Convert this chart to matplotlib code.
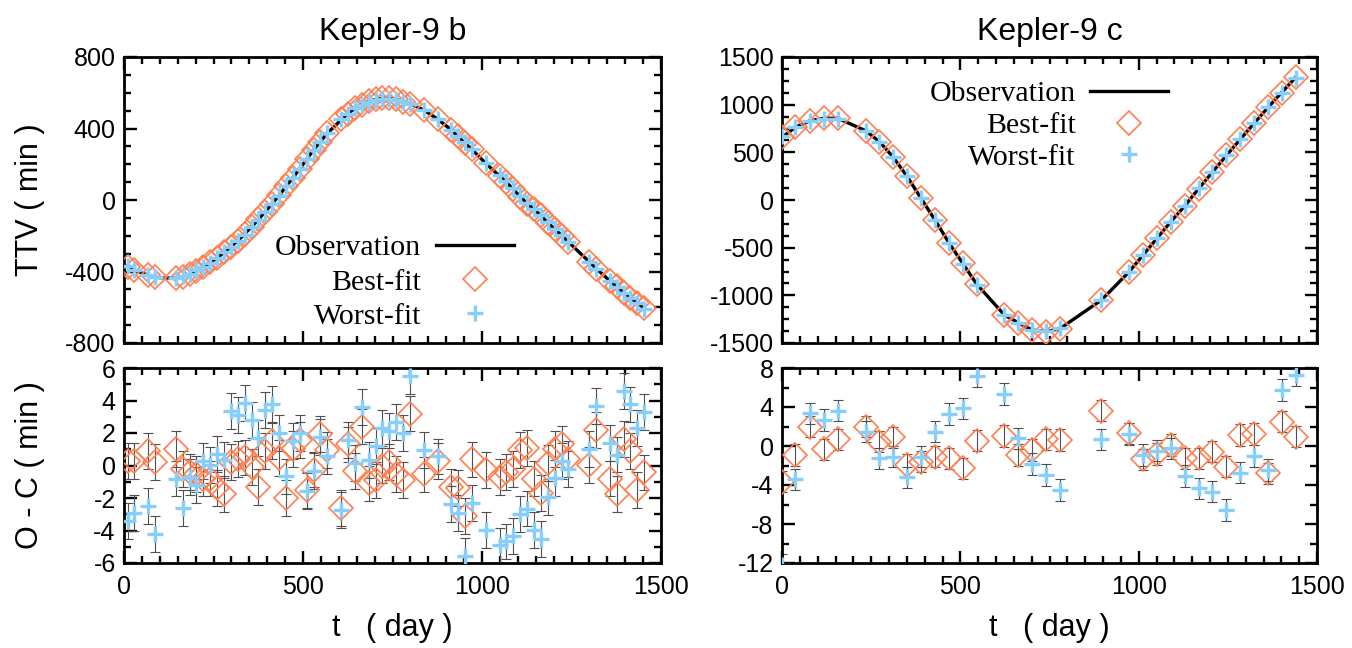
import matplotlib
matplotlib.use('Agg')
import matplotlib.pyplot as plt
from matplotlib.ticker import MultipleLocator

# ---------------- Kepler-9 b ----------------
t_b = [10.0, 29.2, 67.7, 87.0, 144.7, 163.9, 183.2, 202.4, 221.6, 240.9, 260.1, 279.4,
       298.6, 317.8, 337.1, 356.3, 375.6, 394.8, 414.0, 433.3, 452.5, 471.8, 491.0,
       510.2, 529.5, 548.7, 568.0, 606.4, 625.7, 644.9, 664.2, 683.4, 702.6, 721.9,
       741.1, 760.4, 779.6, 798.8, 837.3, 875.8, 914.3, 933.5, 952.8, 972.0, 1010.5,
       1049.0, 1068.2, 1087.4, 1106.7, 1125.9, 1145.2, 1164.4, 1183.6, 1202.9, 1222.1,
       1241.4, 1299.1, 1318.3, 1356.8, 1376.0, 1395.3, 1414.5, 1433.8, 1453.0]
ttv_obs_b = [-373, -392, -421, -433, -438, -429, -416, -395, -373, -350, -324, -293,
             -261, -228, -190, -149, -108, -65, -19, 26, 75, 125, 175,
             228, 280, 328, 373, 448, 485, 513, 535, 550, 563, 569,
             569, 563, 550, 541, 503, 453, 392, 354, 317, 283, 205,
             134, 99, 60, 19, -19, -52, -88, -127, -162, -198,
             -235, -345, -382, -452, -485, -516, -546, -576, -605]
oc_best_b = [0.3, 0.3, 0.9, 0.2, 1.0, -0.2, -0.4, -0.5, -0.8, -0.8, -1.4, -1.75,
             0.2, 0.4, 0.5, -0.1, -1.3, 0.9, 1.5, 0.45, -2.0, 1.0, 1.55,
             -1.5, -0.25, 1.95, 0.95, -2.6, 1.3, -0.35, 2.4, -1.1, -0.9, 0.0,
             0.2, -0.5, -0.9, 3.2, -0.55, 0.27, -1.33, -1.38, -3.1, 0.37, -0.27,
             -0.7, -0.4, -0.2, 0.95, 1.1, -0.8, -1.7, 0.15, 1.0, 1.35,
             0.4, 0.03, 2.2, -0.8, -1.77, 1.62, 0.87, -1.5, -0.43]
oc_worst_b = [-3.4, -2.9, -2.5, -4.2, -0.8, -2.6, -0.7, -1.2, 0.3, 0.05, 0.7, 0.35,
              3.35, 3.13, 3.85, 2.78, 1.67, 3.4, 3.8, 2.0, -0.67, 1.5, 2.0,
              -1.55, -0.36, 1.75, 0.56, -2.75, 1.55, 0.15, 3.6, 0.33, 1.18, 2.3,
              2.15, 2.7, 2.0, 5.5, 0.95, 0.56, -2.36, -2.92, -5.55, -2.3, -3.95,
              -4.92, -4.67, -4.36, -2.97, -2.65, -3.95, -4.5, -1.95, -0.75, 0.3,
              -0.2, 1.0, 3.64, 1.38, 0.67, 4.58, 3.76, 2.31, 3.3]
err_b = 1.1

# ---------------- Kepler-9 c ----------------
t_c = [1.0, 37.0, 78.8, 117.7, 156.6, 234.4, 273.3, 312.2, 351.1, 390.0, 428.9,
       467.8, 506.7, 545.6, 623.4, 662.3, 701.2, 740.1, 779.0, 895.7, 973.5,
       1012.4, 1051.3, 1090.2, 1129.1, 1168.0, 1206.9, 1245.8, 1284.7, 1323.6,
       1362.5, 1401.4, 1440.3]
ttv_obs_c = [660, 762, 832, 857, 857, 727, 612, 448, 245, 17, -210,
             -448, -664, -881, -1206, -1287, -1364, -1381, -1350, -1049, -752,
             -577, -402, -227, -63, 118, 293, 466, 636, 805,
             970, 1130, 1287]
oc_best_c = [-3.66, -0.92, 1.98, -0.34, 0.68, 1.98, 0.44, 0.89, -1.95, -1.61, -1.09,
             -1.26, -2.29, 0.55, 1.03, -0.92, -0.41, 0.68, 0.62, 3.62, 1.29,
             -1.37, -0.82, 0.1, -1.26, -1.26, -0.58, -2.12, 1.13, 1.23,
             -2.8, 2.5, 0.96]
oc_worst_c = [-12.2, -3.42, 3.35, 2.67, 3.62, 1.47, -1.26, -1.09, -3.21, -1.09, 1.47,
              3.28, 3.86, 7.18, 5.33, 0.79, -1.85, -2.97, -4.5, 0.68, 1.23,
              -0.92, -0.48, -0.24, -3.08, -4.34, -4.68, -6.56, -2.74, -1.03,
              -2.46, 5.74, 7.28]
err_c = 1.1

titles = ["Kepler-9 b", "Kepler-9 c"]
legend_labels = ["Observation", "Best-fit", "Worst-fit"]

plt.rcParams['axes.unicode_minus'] = False
SANS = ['Liberation Sans', 'DejaVu Sans']
SERIF = ['Liberation Serif', 'DejaVu Serif']

ORANGE = '#FF7F50'
BLUE = '#87CEFA'
EBAR = '#505050'
D_MS, D_MEW = 12.0, 1.2
P_MS, P_MEW = 11.0, 2.4

W, H = 1352, 648
fig = plt.figure(figsize=(W / 100, H / 100), dpi=100)


def ax_at(x0, y0, x1, y1):
    return fig.add_axes([x0 / W, 1 - y1 / H, (x1 - x0) / W, (y1 - y0) / H])


def style(ax, xmaj, xmin, ymaj, ymin, show_x):
    ax.xaxis.set_major_locator(MultipleLocator(xmaj))
    ax.xaxis.set_minor_locator(MultipleLocator(xmin))
    ax.yaxis.set_major_locator(MultipleLocator(ymaj))
    ax.yaxis.set_minor_locator(MultipleLocator(ymin))
    ax.tick_params(which='both', direction='in', top=True, right=True,
                   labelsize=18, width=1.7)
    ax.tick_params(which='major', length=9, pad=6)
    ax.tick_params(which='minor', length=5)
    ax.tick_params(axis='x', pad=9)
    if not show_x:
        ax.tick_params(axis='x', labelbottom=False)
    for lab in ax.get_xticklabels() + ax.get_yticklabels():
        lab.set_family(SANS)
    for s in ax.spines.values():
        s.set_linewidth(2.0)


def top_panel(ax, t, obs, ocb, ocw, ylim, ymaj, ymin, title, leg_kw):
    best = [o - d for o, d in zip(obs, ocb)]
    worst = [o - d for o, d in zip(obs, ocw)]
    l1, = ax.plot(t, obs, '-', color='black', lw=2.4, zorder=2)
    l2, = ax.plot(t, best, ls='none', marker='D', ms=D_MS, mfc='none',
                  mec=ORANGE, mew=D_MEW, zorder=3)
    l3, = ax.plot(t, worst, ls='none', marker='+', ms=P_MS, mec=BLUE,
                  mew=P_MEW, zorder=4)
    ax.set_xlim(0, 1500)
    ax.set_ylim(*ylim)
    style(ax, 500, 50, ymaj, ymin, False)
    ax.set_title(title, fontsize=23, family=SANS, pad=12)
    ax.legend([l1, l2, l3], legend_labels, frameon=False, markerfirst=False,
              prop={'family': SERIF, 'size': 21.5}, handlelength=2.6,
              handletextpad=0.5, borderaxespad=0, **leg_kw)


def bottom_panel(ax, t, ocb, ocw, err, ylim, ymaj, ymin):
    ax.errorbar(t, ocb, yerr=err, fmt='none', ecolor=EBAR, elinewidth=0.8,
                capsize=3.6, capthick=0.8, zorder=2)
    ax.errorbar(t, ocw, yerr=err, fmt='none', ecolor=EBAR, elinewidth=0.8,
                capsize=3.6, capthick=0.8, zorder=2)
    ax.plot(t, ocb, ls='none', marker='D', ms=D_MS, mfc='none', mec=ORANGE,
            mew=D_MEW, zorder=3)
    ax.plot(t, ocw, ls='none', marker='+', ms=P_MS, mec=BLUE, mew=P_MEW, zorder=4)
    ax.set_xlim(0, 1500)
    ax.set_ylim(*ylim)
    style(ax, 500, 50, ymaj, ymin, True)
    ax.set_xlabel('t   ( day )', fontsize=22, family=SANS, va='center')
    ax.xaxis.set_label_coords(0.5, -0.333)


ax1 = ax_at(124, 57, 661, 343)
ax2 = ax_at(124, 368, 661, 563)
ax3 = ax_at(782, 57, 1317, 343)
ax4 = ax_at(782, 368, 1317, 563)

top_panel(ax1, t_b, ttv_obs_b, oc_best_b, oc_worst_b, (-800, 800), 400, 100,
          titles[0], dict(loc='lower right', bbox_to_anchor=(0.748, 0.005),
                          labelspacing=0.24))
top_panel(ax3, t_c, ttv_obs_c, oc_best_c, oc_worst_c, (-1500, 1500), 500, 125,
          titles[1], dict(loc='upper right', bbox_to_anchor=(0.744, 0.96),
                          labelspacing=0.16))
bottom_panel(ax2, t_b, oc_best_b, oc_worst_b, err_b, (-6, 6), 2, 1)
bottom_panel(ax4, t_c, oc_best_c, oc_worst_c, err_c, (-12, 8), 4, 2)

ax1.set_ylabel('TTV ( min )', fontsize=22, family=SANS, va='center')
ax1.yaxis.set_label_coords((30 - 124) / 537, 0.5)
ax2.set_ylabel('O - C ( min )', fontsize=22, family=SANS, va='center')
ax2.yaxis.set_label_coords((30 - 124) / 537, 0.5)

fig.savefig('out.png', dpi=100)
